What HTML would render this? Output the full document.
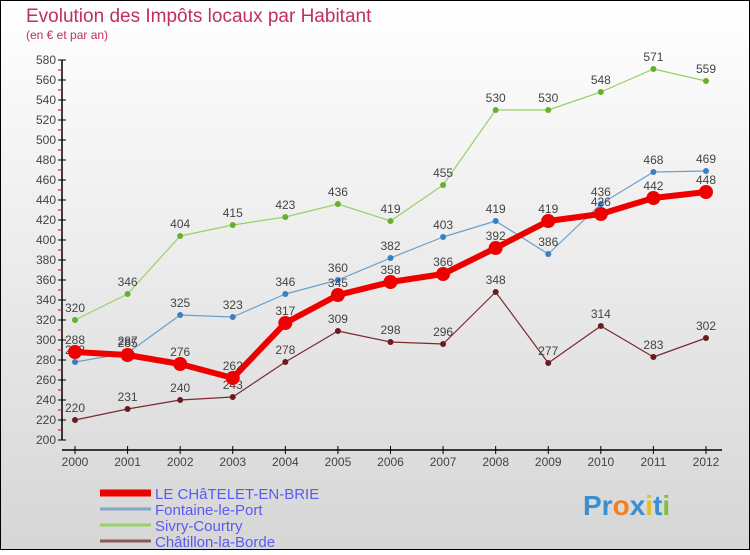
<!DOCTYPE html>
<html><head><meta charset="utf-8"><style>
html,body{margin:0;padding:0}
body{width:750px;height:550px;overflow:hidden;font-family:"Liberation Sans",sans-serif}
</style></head><body>
<svg id="c" width="750" height="550" xmlns="http://www.w3.org/2000/svg">
<defs><linearGradient id="bg" x1="0" y1="0" x2="0" y2="1"><stop offset="0" stop-color="#ffffff"/><stop offset="1" stop-color="#d6d6d6"/></linearGradient></defs>
<rect x="0.5" y="0.5" width="749" height="549" fill="url(#bg)" stroke="#000"/>
<text x="26" y="22" font-size="19" fill="#c0305a">Evolution des Impôts locaux par Habitant</text>
<text x="26" y="39" font-size="12" fill="#c0305a">(en € et par an)</text>
<g id="axes"></g><g id="series"></g><g id="legend"></g>
<text x="583" y="515" font-size="28" font-weight="bold"><tspan fill="#3a8fd0">Pr</tspan><tspan fill="#f08020">o</tspan><tspan fill="#3a8fd0">x</tspan><tspan fill="#e0c020">i</tspan><tspan fill="#3a8fd0">t</tspan><tspan fill="#80c040">i</tspan></text>
</svg>
<script>
const years=[2000,2001,2002,2003,2004,2005,2006,2007,2008,2009,2010,2011,2012];
const yTicks=[200,220,240,260,280,300,320,340,360,380,400,420,440,460,480,500,520,540,560,580];
const chatelet=[288,285,276,262,317,345,358,366,392,419,426,442,448];
const fontaine=[278,287,325,323,346,360,382,403,419,386,436,468,469];
const sivry=[320,346,404,415,423,436,419,455,530,530,548,571,559];
const chatillon=[220,231,240,243,278,309,298,296,348,277,314,283,302];
const seriesNames=["LE CHâTELET-EN-BRIE","Fontaine-le-Port","Sivry-Courtry","Châtillon-la-Borde"];
const NS="http://www.w3.org/2000/svg";
function X(i){return 75+i*(706-75)/12;}
function Y(v){return 440-(v-200);}
function mk(tag,attrs,parent,text){const e=document.createElementNS(NS,tag);for(const k in attrs)e.setAttribute(k,attrs[k]);if(text!==undefined)e.textContent=text;parent.appendChild(e);return e;}
const ax=document.getElementById('axes');
let e=mk('line',{x1:62,y1:Y(580),x2:62,y2:Y(200),stroke:'#000','stroke-width':1.5},ax);


e=mk('line',{x1:62,y1:450,x2:722,y2:450,stroke:'#000','stroke-width':1.5},ax);


yTicks.forEach(v=>{
  mk('line',{x1:58,y1:Y(v),x2:66,y2:Y(v),stroke:'#000'},ax);
  if(v<580)mk('line',{x1:58,y1:Y(v+10),x2:62,y2:Y(v+10),stroke:'#e00'},ax);
  const t=mk('text',{x:56,y:Y(v)+4,'font-size':12,fill:'#444','text-anchor':'end'},ax,String(v));
  
  
});
years.forEach((yr,i)=>{
  mk('line',{x1:X(i),y1:446,x2:X(i),y2:454,stroke:'#000'},ax);
  const t=mk('text',{x:X(i),y:466,'font-size':12,fill:'#444','text-anchor':'middle'},ax,String(yr));
  
  
});
const sg=document.getElementById('series');
const defs=[[sivry,'#99d066','#66b030',1.2,3,'sivry-courtry'],[chatillon,'#7a2a30','#6a1a20',1.2,3,'chatillon-la-borde'],[fontaine,'#6aa0cc','#3a80c0',1.2,3,'fontaine-le-port'],[chatelet,'#ee0000','#ee0000',6,7,'le-chatelet-en-brie']];
defs.forEach(([d,lc,pc,w,r,name])=>{
  const g=mk('g',{},sg);
  
  
  const p=mk('polyline',{points:d.map((v,i)=>X(i)+','+Y(v)).join(' '),fill:'none',stroke:lc,'stroke-width':w,'stroke-linejoin':'round'},g);
  
  
  d.forEach((v,i)=>{
    const c=mk('circle',{cx:X(i),cy:Y(v),r:r,fill:pc},g);
    
    
    const t=mk('text',{x:X(i),y:Y(v)-8,'font-size':12,fill:'#444','text-anchor':'middle'},g,String(v));
    
    
  });
});
const lg=document.getElementById('legend');
const lcol=['#ee0000','#80a8cc','#99d066','#8a5a5a'];const lw=[7,3,3,3];
seriesNames.forEach((n,i)=>{
  const y=493+i*16;
  const l=mk('line',{x1:100,y1:y,x2:151,y2:y,stroke:lcol[i],'stroke-width':lw[i]},lg);
  
  
  const t=mk('text',{x:155,y:y+6,'font-size':15,fill:'#5a5aee'},lg,n);
  
  
});
</script>
</body></html>
